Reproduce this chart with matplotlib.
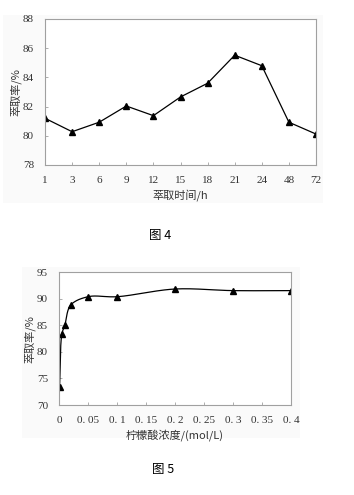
import numpy as np
import matplotlib
matplotlib.use("Agg")
import matplotlib.pyplot as plt
from matplotlib.patches import Rectangle

# ---- data ----
time_labels = ["1", "3", "6", "9", "12", "15", "18", "21", "24", "48", "72"]
time_yield = [81.2, 80.28, 80.93, 82.04, 81.38, 82.66, 83.6, 85.52, 84.8, 80.93, 80.12]

acid_conc = [0.001, 0.005, 0.01, 0.02, 0.05, 0.1, 0.2, 0.3, 0.4]
acid_yield = [73.4, 83.4, 85.0, 88.8, 90.4, 90.4, 91.85, 91.55, 91.55]
acid_ticks = [0, 0.05, 0.1, 0.15, 0.2, 0.25, 0.3, 0.35, 0.4]
acid_tick_labels = ["0", "0. 05", "0. 1", "0. 15", "0. 2", "0. 25", "0. 3", "0. 35", "0. 4"]

num = ["Liberation Serif", "DejaVu Serif"]
cjk = ["Noto Sans CJK SC", "DejaVu Sans"]
plt.rcParams["font.family"] = num

W, H = 354, 495
fig = plt.figure(figsize=(W / 100, H / 100), dpi=100)
fig.patch.set_facecolor("white")

frame_col = "#a0a0a0"
txt_col = "#333333"

# faint gray panels behind the charts
fig.add_artist(Rectangle((3 / W, 1 - 203 / H), 320 / W, 188 / H, transform=fig.transFigure,
                         facecolor="#fafafa", edgecolor="none", zorder=0))
fig.add_artist(Rectangle((22 / W, 1 - 438 / H), 278 / W, 171 / H, transform=fig.transFigure,
                         facecolor="#fafafa", edgecolor="none", zorder=0))


def style(ax):
    ax.set_facecolor("white")
    for s in ax.spines.values():
        s.set_color(frame_col)
        s.set_linewidth(0.8)
    ax.tick_params(direction="in", length=2.5, width=0.6, color=frame_col,
                   labelsize=8, labelcolor=txt_col, pad=8)


# ---- top chart ----
ax1 = fig.add_axes([45 / W, 1 - 165 / H, 271 / W, 146 / H])
x1 = np.arange(len(time_labels))
ax1.plot(x1, time_yield, color="black", lw=0.9, marker="^", ms=5, mfc="black", mec="black")
ax1.set_xlim(0, len(time_labels) - 1)
ax1.set_ylim(78, 88)
ax1.set_xticks(x1)
ax1.set_xticklabels(time_labels)
ax1.set_yticks([78, 80, 82, 84, 86, 88])
style(ax1)
ax1.set_xlabel("萃取时间/h", fontfamily=cjk, fontsize=8, color=txt_col, labelpad=3)
ax1.set_ylabel("萃取率/%", fontfamily=cjk, fontsize=8, color=txt_col, labelpad=1)
fig.text(160 / W, 1 - 236 / H, "图 4", fontfamily=cjk, fontsize=9, color="black",
         ha="center", va="center")

# ---- bottom chart ----
AW, AH = 232, 132.7
ax2 = fig.add_axes([59 / W, 1 - 405 / H, AW / W, AH / H])
ax2.set_xlim(0, 0.4)
ax2.set_ylim(70, 95)

# centripetal Catmull-Rom smoothing through the data points (pixel space)
px = np.array(acid_conc) / 0.4 * AW
py = (np.array(acid_yield) - 70) / 25 * AH
P = np.column_stack([px, py])
Pext = np.vstack([2 * P[0] - P[1], P, 2 * P[-1] - P[-2]])
curve = []
alpha = 0.5
for i in range(1, len(Pext) - 2):
    p0, p1, p2, p3 = Pext[i - 1], Pext[i], Pext[i + 1], Pext[i + 2]
    t0 = 0.0
    t1 = t0 + np.linalg.norm(p1 - p0) ** alpha
    t2 = t1 + np.linalg.norm(p2 - p1) ** alpha
    t3 = t2 + np.linalg.norm(p3 - p2) ** alpha
    t = np.linspace(t1, t2, 40)[:, None]
    A1 = (t1 - t) / (t1 - t0) * p0 + (t - t0) / (t1 - t0) * p1
    A2 = (t2 - t) / (t2 - t1) * p1 + (t - t1) / (t2 - t1) * p2
    A3 = (t3 - t) / (t3 - t2) * p2 + (t - t2) / (t3 - t2) * p3
    B1 = (t2 - t) / (t2 - t0) * A1 + (t - t0) / (t2 - t0) * A2
    B2 = (t3 - t) / (t3 - t1) * A2 + (t - t1) / (t3 - t1) * A3
    C = (t2 - t) / (t2 - t1) * B1 + (t - t1) / (t2 - t1) * B2
    curve.append(C)
curve = np.vstack(curve)
cx = curve[:, 0] / AW * 0.4
cy = curve[:, 1] / AH * 25 + 70
ax2.plot(cx, cy, color="black", lw=0.9)
ax2.plot(acid_conc, acid_yield, ls="none", marker="^", ms=5, mfc="black", mec="black")
ax2.set_xticks(acid_ticks)
ax2.set_xticklabels(acid_tick_labels)
ax2.set_yticks([70, 75, 80, 85, 90, 95])
style(ax2)
ax2.set_xlabel("柠檬酸浓度/(mol/L)", fontfamily=cjk, fontsize=8, color=txt_col, labelpad=3)
ax2.set_ylabel("萃取率/%", fontfamily=cjk, fontsize=8, color=txt_col, labelpad=1)
fig.text(163 / W, 1 - 470 / H, "图 5", fontfamily=cjk, fontsize=9, color="black",
         ha="center", va="center")

fig.savefig("out.png", dpi=100)
